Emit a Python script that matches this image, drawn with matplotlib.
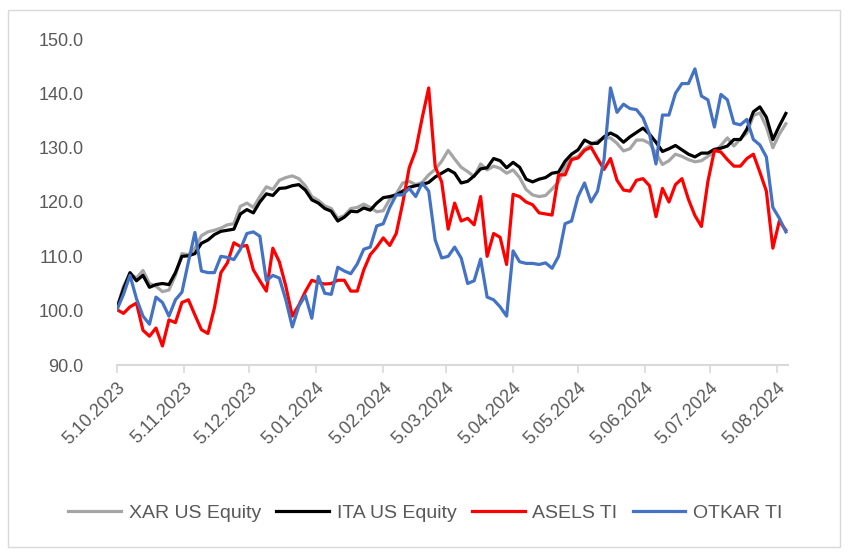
import numpy as np
import pandas as pd
import matplotlib
matplotlib.use("Agg")
import matplotlib.pyplot as plt
import matplotlib.dates as mdates
from matplotlib.patches import Rectangle

# sample dates, every 3 days from 5 Oct 2023
dates = pd.date_range("2023-10-05", periods=104, freq="3D")

xar = [100.5, 104.5, 106.8, 106.0, 107.4, 105.0, 104.5, 103.5, 103.8, 106.5,
       110.5, 110.3, 111.5, 113.8, 114.5, 114.8, 115.2, 115.8, 116.0, 119.2,
       119.8, 119.0, 121.0, 122.8, 122.3, 124.0, 124.5, 124.8, 124.3, 123.0,
       121.0, 120.3, 119.3, 118.8, 117.0, 117.5, 118.8, 119.0, 119.6, 119.0,
       118.2, 118.4, 120.5, 121.5, 123.5, 123.8, 123.2, 123.6, 125.0, 126.0,
       127.5, 129.5, 127.9, 126.4, 125.6, 124.7, 127.0, 125.9, 126.6, 126.2,
       125.3, 125.9, 124.5, 122.3, 121.3, 121.0, 121.2, 122.4, 123.7, 126.5,
       128.0, 128.4, 129.8, 130.5, 131.2, 131.8, 131.8, 130.8, 129.4, 129.8,
       131.4, 131.4, 130.8, 129.0, 126.9, 127.6, 128.8, 128.4, 127.8, 127.4,
       127.6, 128.4, 129.2, 130.4, 131.8, 130.3, 131.6, 132.7, 135.9, 136.4,
       133.8, 130.0, 132.5, 134.4]

ita = [100.5, 104.0, 107.0, 105.5, 106.5, 104.3, 104.8, 105.0, 104.8, 107.0,
       110.0, 110.1, 110.5, 112.4, 113.0, 114.0, 114.6, 114.8, 115.0, 117.8,
       118.6, 118.0, 120.0, 121.5, 121.2, 122.5, 122.6, 123.0, 123.2, 122.2,
       120.4, 119.8, 118.8, 118.3, 116.5, 117.2, 118.3, 118.2, 118.9, 118.5,
       119.8, 120.8, 121.0, 121.3, 122.0, 122.7, 123.0, 123.2, 123.6, 124.6,
       125.3, 126.0, 125.3, 123.5, 123.8, 124.8, 126.1, 126.3, 128.0, 127.6,
       126.3, 127.3, 126.4, 124.2, 123.7, 124.2, 124.5, 125.3, 125.5, 127.5,
       128.8, 129.6, 131.4, 130.8, 130.8, 132.0, 132.7, 132.1, 131.0, 132.0,
       132.8, 133.6, 132.5, 131.0, 129.3, 129.8, 130.4, 129.6, 128.8, 128.3,
       129.0, 129.0, 129.7, 129.9, 130.3, 131.5, 131.5, 133.4, 136.6, 137.5,
       135.6, 131.5, 134.0, 136.3]

asels = [100.2, 99.5, 100.7, 101.4, 96.4, 95.3, 96.8, 93.5, 98.3, 97.8,
         101.5, 102.0, 99.2, 96.5, 95.8, 100.5, 107.0, 108.8, 112.5, 111.8,
         112.0, 107.5, 105.5, 103.6, 111.5, 109.0, 104.5, 99.0, 101.0, 103.5,
         105.6, 105.2, 104.9, 105.0, 105.6, 105.6, 103.6, 103.6, 107.5, 110.3,
         111.7, 113.4, 112.0, 114.2, 119.8, 126.3, 129.5, 135.5, 141.0, 126.5,
         123.7, 115.0, 119.8, 116.5, 117.0, 115.8, 121.0, 110.0, 114.2, 113.5,
         108.5, 121.4, 121.0, 120.0, 119.5, 118.0, 117.8, 117.6, 125.0, 125.0,
         127.8, 128.1, 129.5, 130.1, 128.0, 126.0, 128.0, 124.0, 122.2, 122.0,
         124.0, 124.3, 123.0, 117.3, 122.5, 120.0, 123.2, 124.3, 120.5, 117.5,
         115.5, 123.8, 129.5, 129.2, 127.8, 126.6, 126.6, 128.0, 128.8, 125.5,
         122.0, 111.5, 116.5, 114.8]

otkar = [100.2, 103.0, 106.5, 102.2, 99.0, 97.5, 102.5, 101.5, 99.0, 102.0,
         103.4, 109.0, 114.4, 107.3, 107.0, 107.0, 110.0, 109.8, 109.4, 111.3,
         114.2, 114.5, 113.7, 105.5, 106.5, 106.0, 102.0, 97.0, 100.8, 102.8,
         98.6, 106.3, 103.2, 103.0, 108.0, 107.3, 106.8, 108.6, 111.3, 111.7,
         115.6, 116.0, 119.0, 121.3, 121.3, 122.5, 121.0, 123.5, 122.0, 113.0,
         109.7, 110.0, 111.7, 109.7, 105.0, 105.5, 109.5, 102.5, 102.0, 100.7,
         99.0, 111.0, 109.0, 108.7, 108.7, 108.5, 108.8, 107.8, 110.0, 116.0,
         116.5, 121.0, 123.5, 120.0, 122.0, 127.8, 141.0, 136.5, 138.0, 137.2,
         137.0, 135.5, 132.5, 127.0, 136.0, 136.0, 140.0, 141.8, 141.8, 144.5,
         139.5, 138.8, 133.8, 139.8, 138.8, 134.5, 134.2, 135.2, 131.5, 130.5,
         128.3, 119.0, 117.0, 114.5]

series_names = ["XAR US Equity", "ITA US Equity", "ASELS TI", "OTKAR TI"]
series_colors = ["#A5A5A5", "#000000", "#FF0000", "#4472C4"]

# major ticks on the 5th of every month
tick_dates = pd.date_range("2023-10-01", "2024-08-01", freq="MS") + pd.Timedelta(days=4)

plt.rcParams["font.family"] = ["Liberation Sans", "DejaVu Sans"]
text_color = "#595959"

fig = plt.figure(figsize=(8.51, 5.54), dpi=100)
fig.patches.append(Rectangle((8 / 851, 1 - 547 / 554), 832 / 851, 537 / 554,
                             transform=fig.transFigure, fill=False,
                             edgecolor="#D9D9D9", linewidth=1.0))

ax = fig.add_axes([117 / 851, 1 - 365 / 554, (788 - 117) / 851, (365 - 39) / 554])

for vals, name, col in zip([xar, ita, asels, otkar], series_names, series_colors):
    ax.plot(dates, vals, color=col, linewidth=2.3, label=name, solid_joinstyle="round")

ax.set_ylim(90, 150)
ax.set_yticks(np.arange(90, 151, 10))
ax.yaxis.set_major_formatter(matplotlib.ticker.FormatStrFormatter("%.1f"))
ax.set_xlim(pd.Timestamp("2023-10-05"), pd.Timestamp("2024-08-10"))
ax.set_xticks(tick_dates)
ax.xaxis.set_major_formatter(mdates.DateFormatter("%-d.%m.%Y"))

for s in ["top", "right", "left"]:
    ax.spines[s].set_visible(False)
ax.spines["bottom"].set_color("#D9D9D9")
ax.spines["bottom"].set_linewidth(1.5)

ax.tick_params(axis="y", length=0, labelsize=13, labelcolor=text_color, pad=24)
ax.tick_params(axis="x", length=6, width=1.2, color="#D9D9D9",
               labelsize=13, labelcolor=text_color, pad=4)
plt.setp(ax.get_xticklabels(), rotation=45, ha="right", rotation_mode="anchor")

fig.legend(loc="center", bbox_to_anchor=(0.5, 1 - 513 / 554), ncol=4,
           frameon=False, fontsize=14, labelcolor=text_color,
           handlelength=2.7, columnspacing=0.8, handletextpad=0.4)

fig.savefig("out.png", dpi=100)
